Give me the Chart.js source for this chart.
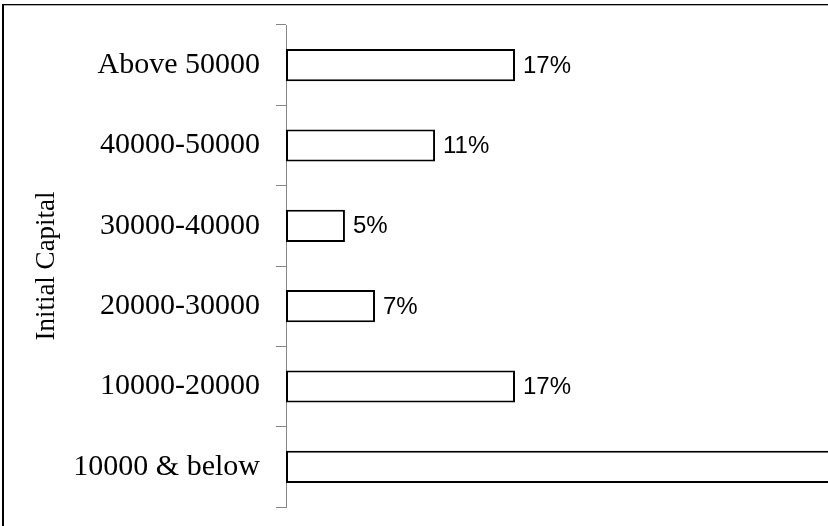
<!DOCTYPE html>
<html>
<head>
<meta charset="utf-8">
<script src="https://cdn.jsdelivr.net/npm/chart.js@4/dist/chart.umd.min.js"></script>
<style>
  html, body { margin: 0; padding: 0; background: #fff; overflow: hidden; }
  #wrap { position: relative; width: 828px; height: 526px; }
  #frame { position: absolute; left: 2px; top: 4px; width: 900px; height: 600px;
           border-left: 2px solid #000; border-top: 1px solid #000;
           box-shadow: inset 0 1px 0 #b0b0b0; pointer-events: none; }
  canvas { position: absolute; left: 0; top: 0; }
</style>
</head>
<body>
<div id="wrap">
  <canvas id="c" width="828" height="526"></canvas>
  <div id="frame"></div>
</div>
<script>
// Categories (top to bottom)
const categories = ["Above 50000", "40000-50000", "30000-40000", "20000-30000", "10000-20000", "10000 & below"];
// Bar lengths (percent of firms)
const shares = [16.9, 11.0, 4.35, 6.57, 16.9, 43];
// Printed data labels
const shareLabels = ["17%", "11%", "5%", "7%", "17%", "43%"];
const axisTitle = "Initial Capital";

const serif = "'Liberation Serif', 'Times New Roman', serif";
const sans = "'Liberation Sans', Arial, sans-serif";

const dataLabelPlugin = {
  id: 'dataLabels',
  afterDatasetsDraw(chart) {
    const ctx = chart.ctx;
    const meta = chart.getDatasetMeta(0);
    ctx.save();
    ctx.font = "24px " + sans;
    ctx.fillStyle = "#000";
    ctx.textAlign = "left";
    ctx.textBaseline = "middle";
    meta.data.forEach((bar, i) => {
      ctx.fillText(shareLabels[i], bar.x + 8, bar.y + 1);
    });
    ctx.restore();
  }
};

new Chart(document.getElementById('c'), {
  type: 'bar',
  data: {
    labels: categories,
    datasets: [{
      data: shares,
      backgroundColor: '#ffffff',
      borderColor: '#000000',
      borderWidth: 2,
      borderSkipped: false,
      barPercentage: 1.0,
      categoryPercentage: 0.4
    }]
  },
  options: {
    indexAxis: 'y',
    responsive: false,
    animation: false,
    devicePixelRatio: 1,
    layout: { padding: { top: 25, bottom: 19, left: 0, right: 0 } },
    plugins: { legend: { display: false }, tooltip: { enabled: false } },
    scales: {
      x: { display: false, min: 0, max: 40 },
      y: {
        afterFit(scale) { scale.width = 286; scale.paddingTop = 0; scale.paddingBottom = 0; },
        grid: { display: true, drawOnChartArea: false, drawTicks: true, tickLength: 10, color: '#868686', lineWidth: 1, offset: true },
        border: { display: true, color: '#868686', width: 1 },
        ticks: { color: '#000', font: { family: serif, size: 30 }, padding: 16 },
        title: { display: true, text: axisTitle, color: '#000', font: { family: serif, size: 27 }, padding: { top: 31, bottom: 0 } }
      }
    }
  },
  plugins: [dataLabelPlugin]
});
</script>
</body>
</html>
